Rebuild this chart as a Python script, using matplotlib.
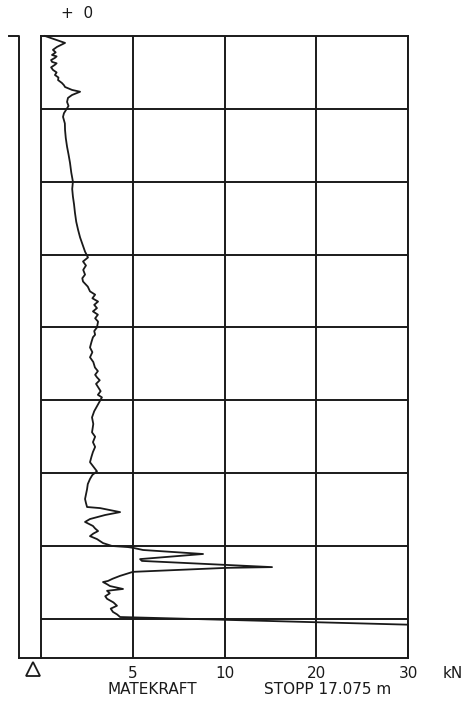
import numpy as np
import matplotlib
matplotlib.use("Agg")
import matplotlib.pyplot as plt

# Data: depth (m) and feed force (kN)
depth = [0.00, 0.19, 0.30, 0.38, 0.45, 0.52, 0.56, 0.60, 0.66, 0.71, 0.75, 0.79, 0.86, 0.93,
         1.00, 1.07, 1.14, 1.21, 1.29, 1.35, 1.40, 1.48,
         1.53, 1.62, 1.70, 1.81, 1.92, 2.03, 2.12, 2.22, 2.40, 2.58, 2.80, 3.04, 3.25, 3.48,
         3.75, 4.00, 4.20, 4.41, 4.62, 4.85, 5.10, 5.32, 5.53, 5.70,
         5.92, 6.08, 6.19, 6.30, 6.42, 6.55, 6.65, 6.74, 6.88, 7.01, 7.10, 7.20, 7.29, 7.38,
         7.47, 7.56, 7.65, 7.75, 7.84, 8.00, 8.10, 8.20, 8.27, 8.40, 8.55, 8.68, 8.82, 8.95,
         9.10, 9.20, 9.30, 9.37, 9.45, 9.55, 9.64, 9.75, 9.85, 9.92, 10.11, 10.30, 10.47, 10.65,
         10.88, 11.00, 11.15, 11.28, 11.42, 11.55, 11.70, 11.82, 11.95, 12.05, 12.16, 12.30,
         12.44, 12.58, 12.71, 12.82, 12.93, 12.96, 13.07, 13.15, 13.26, 13.34, 13.45, 13.52,
         13.59, 13.66, 13.73, 13.81, 13.92,
         14.00, 14.03, 14.05, 14.11, 14.22, 14.36, 14.41, 14.52, 14.58, 14.60, 14.71, 14.82,
         14.90, 14.96, 14.99, 15.05, 15.10, 15.18, 15.23, 15.30, 15.38, 15.45, 15.55, 15.64,
         15.72, 15.81, 15.88, 15.95, 16.16, 17.075]
force = [0.22, 1.31, 0.87, 0.65, 0.80, 0.60, 0.85, 0.76, 0.55, 0.60, 0.85, 0.76, 0.55, 0.65,
         0.85, 0.76, 0.95, 0.93, 1.14, 1.25, 1.31, 1.69,
         2.13, 1.69, 1.47, 1.42, 1.50, 1.36, 1.25, 1.20, 1.30, 1.31, 1.35, 1.42, 1.50, 1.58,
         1.65, 1.74, 1.70, 1.74, 1.80, 1.85, 1.92, 2.02, 2.13, 2.25,
         2.40, 2.56, 2.29, 2.45, 2.30, 2.40, 2.25, 2.29, 2.55, 2.67, 2.95, 2.80, 3.11, 2.90,
         3.05, 2.83, 3.10, 2.95, 3.11, 3.05, 2.90, 2.95, 2.83, 2.75, 2.67, 2.80, 2.67, 2.85,
         2.94, 3.10, 2.95, 3.05, 3.20, 3.00, 3.11, 3.25, 3.10, 3.32, 3.11, 2.90, 2.78, 2.85,
         2.78, 2.95, 2.83, 2.95, 2.83, 2.75, 2.67, 2.85, 3.05, 2.80, 2.67, 2.55,
         2.51, 2.45, 2.40, 2.45, 2.51, 3.22, 4.31, 3.49, 2.67, 2.40, 2.83, 2.95,
         3.11, 2.85, 2.67, 3.05, 3.38,
         3.87, 4.74, 5.01, 5.56, 8.83, 5.40, 5.50, 10.05, 15.18, 10.27, 5.01, 4.31,
         3.90, 3.65, 3.38, 3.60, 3.76, 4.47, 3.60, 3.75, 3.50, 3.60, 3.95, 4.14,
         3.80, 3.92, 4.15, 4.31, 30.0, 30.0]

x_ticks = [5, 10, 20, 30]
x_tick_labels = ["5", "10", "20", "30"]
depth_grid = [2, 4, 6, 8, 10, 12, 14, 16]
stop_depth = 17.075


def fwd(v):
    v = np.asarray(v, dtype=float)
    return np.where(v <= 10, v, 10 + (v - 10) / 2.0)


def inv(u):
    u = np.asarray(u, dtype=float)
    return np.where(u <= 10, u, 10 + (u - 10) * 2.0)


plt.rcParams['font.family'] = ['DejaVu Sans']
fig = plt.figure(figsize=(4.68, 7.23), dpi=100)
ax = fig.add_axes([41 / 468, 1 - 658 / 723, 367 / 468, 622 / 723])
ax.set_xscale('function', functions=(fwd, inv))
ax.set_xlim(0, 30)
ax.set_ylim(stop_depth, 0)

ink = '#1a1a1a'
fs = 11
ax.set_xticks(x_ticks)
ax.set_xticklabels(x_tick_labels, fontsize=fs, color=ink)
ax.set_yticks(depth_grid)
ax.set_yticklabels([])
ax.tick_params(axis='both', length=0, pad=6)
ax.grid(True, color=ink, linewidth=1.4)
for s in ax.spines.values():
    s.set_linewidth(1.4)
    s.set_color(ink)

ax.plot(force, depth, color=ink, linewidth=1.3, clip_on=False, zorder=5)

# outer depth bar
xo = (19 - 41) / 367
ax.plot([xo, xo, (9 - 41) / 367], [0, 1, 1], transform=ax.transAxes,
        color=ink, linewidth=1.4, clip_on=False)
ax.plot([xo, 0], [0, 0], transform=ax.transAxes, color=ink, linewidth=1.4, clip_on=False)
ax.plot([(33 - 41) / 367], [(658 - 669) / 622], transform=ax.transAxes, marker='^',
        markersize=10, mfc='white', mec=ink, mew=1.3, clip_on=False)

ax.text((453 - 41) / 367, (658 - 673) / 622, "kN", transform=ax.transAxes,
        ha='center', va='center', fontsize=fs, color=ink)
ax.text((152 - 41) / 367, (658 - 690) / 622, "MATEKRAFT", transform=ax.transAxes,
        ha='center', va='center', fontsize=fs, color=ink)
ax.text((328 - 41) / 367, (658 - 690) / 622, "STOPP 17.075 m", transform=ax.transAxes,
        ha='center', va='center', fontsize=fs, color=ink)
ax.text((77 - 41) / 367, (658 - 13) / 622, "+  0", transform=ax.transAxes,
        ha='center', va='center', fontsize=fs, color=ink)

fig.savefig("out.png", dpi=100, facecolor='white')
